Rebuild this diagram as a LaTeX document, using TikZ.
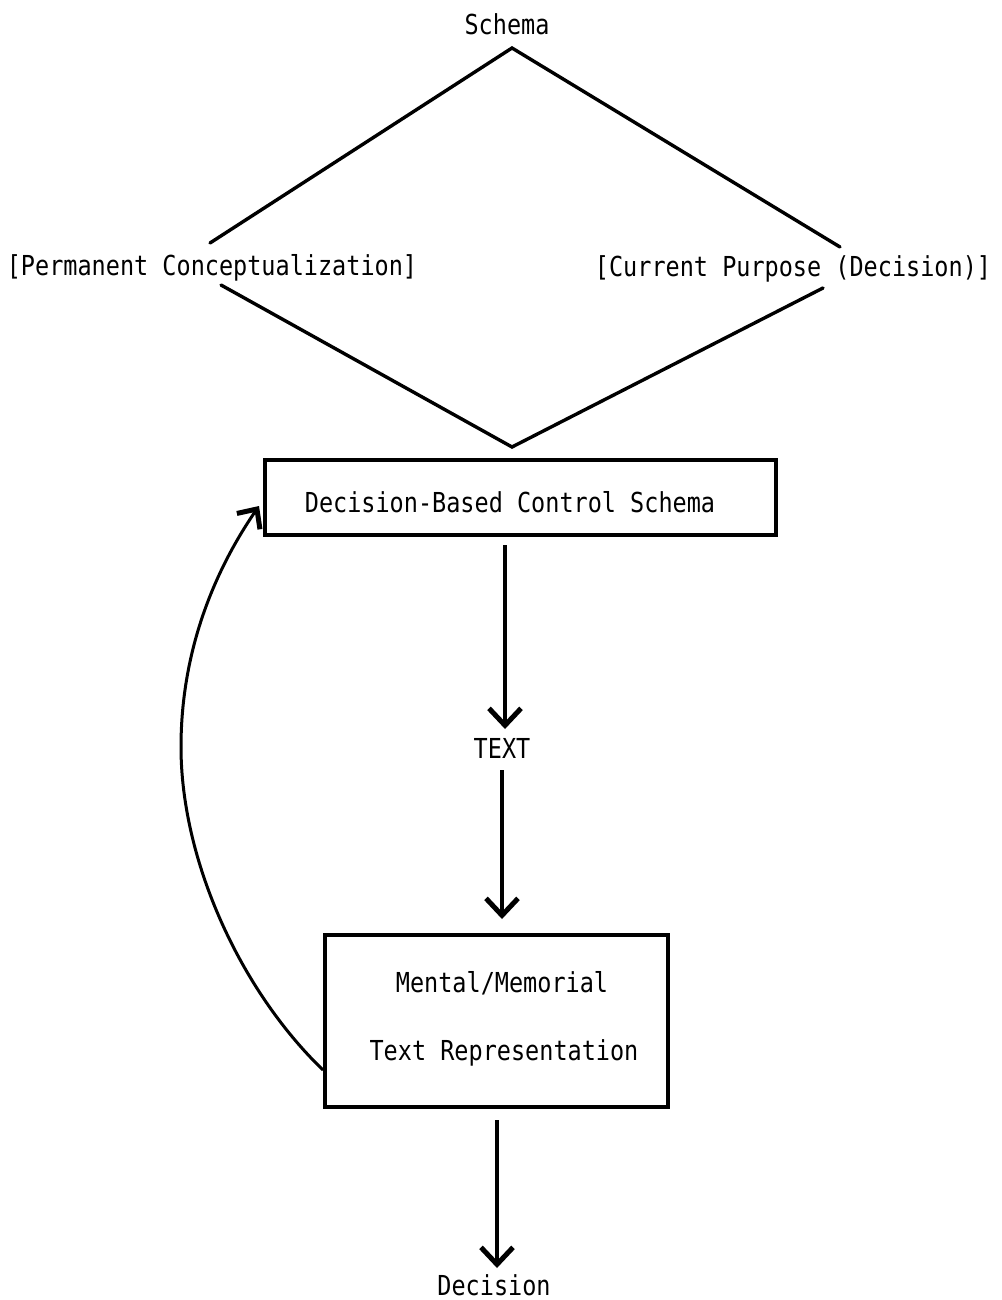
\documentclass[tikz,border=0pt]{standalone}
\usepackage{fontspec}
\setmonofont{DejaVu Sans Mono}
\usetikzlibrary{arrows.meta}
\newcommand{\tw}[1]{\scalebox{1}[1.17]{#1}}
\begin{document}
\begin{tikzpicture}[x=1pt,y=-1pt,
  lbl/.style={font=\ttfamily\fontsize{23.5}{28}\selectfont, inner sep=0pt, anchor=center},
  ln/.style={line width=3.4pt, line cap=round},
  boxnode/.style={draw, line width=3.4pt, inner sep=0pt},
  arr/.style={line width=3.4pt, -{Straight Barb[length=17pt,width=32pt,line width=5pt]}},
  curvarr/.style={line width=3pt, -{Straight Barb[length=15pt,width=28pt,line width=5pt]}}]
\useasboundingbox (0,0) rectangle (1001,1300);
\fill[white] (0,0) rectangle (1001,1300);

% labels
\node[lbl] (schema) at (507,24) {\tw{Schema}};
\node[lbl] (perm) at (212,268) {\tw{[Permanent Conceptualization]}};
\node[lbl] (cur) at (793,269) {\tw{[Current Purpose (Decision)]}};

% diamond
\coordinate (top) at (512,48);
\coordinate (bot) at (512,447);
\coordinate (lu) at (210,243);
\coordinate (ll) at (221,285);
\coordinate (ru) at (840,247);
\coordinate (rl) at (823,288);
\draw[ln] (lu) -- (top) -- (ru);
\draw[ln] (ll) -- (bot) -- (rl);

% box 1
\node[boxnode, minimum width=511pt, minimum height=75pt] (b1) at (520.5,497.5) {};
\node[lbl] (b1t) at (510,502) {\tw{Decision-Based Control Schema}};

% TEXT
\node[lbl] (txt) at (502,748) {\tw{TEXT}};

% box 2
\node[boxnode, minimum width=343pt, minimum height=172pt] (b2) at (496.5,1021) {};
\node[lbl] (b2a) at (502,983) {\tw{Mental/Memorial}};
\node[lbl] (b2b) at (504,1053) {\tw{Text Representation}};

% Decision
\node[lbl] (dec) at (494,1285) {\tw{Decision}};

% arrows
\coordinate (a1s) at (505,545);
\coordinate (a1e) at (505,729);
\coordinate (a2s) at (502,770);
\coordinate (a2e) at (502,919);
\coordinate (a3s) at (497,1120);
\coordinate (a3e) at (497,1268);
\draw[arr] (a1s) -- (a1e);
\draw[arr] (a2s) -- (a2e);
\draw[arr] (a3s) -- (a3e);

% feedback curve
\coordinate (cs) at (323,1070);
\coordinate (cm) at (181,747);
\coordinate (ce) at (259,506);
\draw[curvarr] (cs) .. controls (240,990) and (181,860) .. (cm)
  .. controls (181,650) and (215,570) .. (ce);
\end{tikzpicture}
\end{document}
